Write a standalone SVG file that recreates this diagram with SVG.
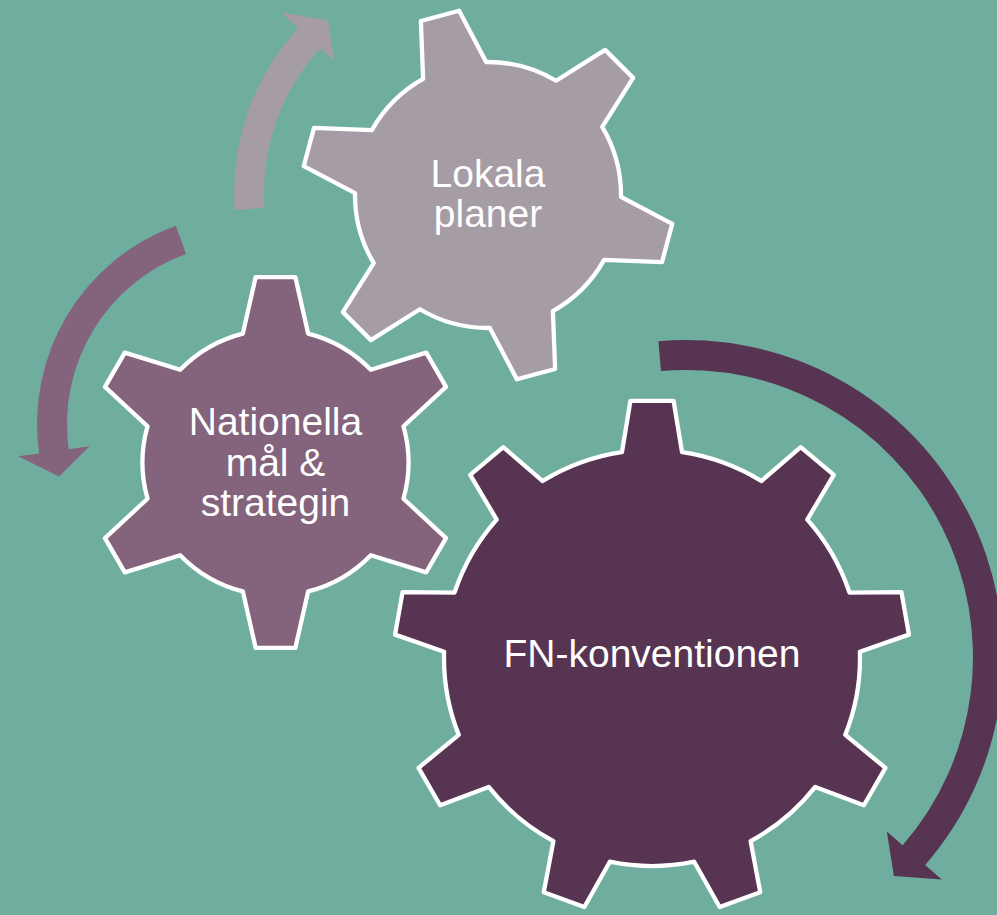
<svg xmlns="http://www.w3.org/2000/svg" width="997" height="915" viewBox="0 0 997 915">
<style>
.gear{stroke:#FFFFFF;stroke-width:4.3;stroke-linejoin:round}
.g1{fill:#573552}
.g2{fill:#84637C}
.g3{fill:#A69CA5}
.lbl{font-family:"Liberation Sans",Arial,sans-serif;font-size:39px;fill:#FFFFFF;text-anchor:middle}
</style>
<rect x="0" y="0" width="997" height="915" fill="#6FAD9F"/>
<g id="connectors">
<path id="arrow-lokala" class="g3" d="M234.6,210.0 A244,244 0 0 1 298.1,28.2 L281.2,12.6 L327.8,20.2 L334.2,61.3 L320.2,48.4 A214,214 0 0 0 264.5,207.9 Z"/>
<path id="arrow-nationella" class="g2" d="M175.8,225.7 A211,211 0 0 0 39.1,453.4 L18.3,456.3 L59.1,476.4 L89.6,446.3 L68.8,449.2 A181,181 0 0 1 186.1,253.9 Z"/>
<path id="arrow-fn" class="g1" d="M658.4,341.2 A317,317 0 0 1 925.2,865.0 L941.8,879.4 L893.9,876.1 L886.8,831.5 L902.6,845.3 A287,287 0 0 0 661.0,371.1 Z"/>
</g>
<g id="node-fn">
<path class="gear g1" d="M621.97,452.18 L630.41,400.91 L673.59,400.91 L682.03,452.18 A208,208 0 0 1 761.30,481.03 L800.72,447.18 L833.80,474.93 L807.30,519.63 A208,208 0 0 1 849.48,592.69 L901.44,592.09 L908.94,634.62 L859.91,651.83 A208,208 0 0 1 845.26,734.91 L885.45,767.85 L863.86,805.25 L815.24,786.92 A208,208 0 0 1 750.61,841.14 L760.22,892.21 L719.65,906.98 L694.18,861.68 A208,208 0 0 1 609.82,861.68 L584.35,906.98 L543.78,892.21 L553.39,841.14 A208,208 0 0 1 488.76,786.92 L440.14,805.25 L418.55,767.85 L458.74,734.91 A208,208 0 0 1 444.09,651.83 L395.06,634.62 L402.56,592.09 L454.52,592.69 A208,208 0 0 1 496.70,519.63 L470.20,474.93 L503.28,447.18 L542.70,481.03 A208,208 0 0 1 621.97,452.18 Z"/>
<text class="lbl" x="652" y="667">FN-konventionen</text>
</g>
<g id="node-nationella">
<path class="gear g2" d="M242.87,333.56 L255.68,277.06 L295.32,277.06 L308.13,333.56 A133,133 0 0 1 370.85,369.78 L426.19,352.61 L446.01,386.94 L403.48,426.29 A133,133 0 0 1 403.48,498.71 L446.01,538.06 L426.19,572.39 L370.85,555.22 A133,133 0 0 1 308.13,591.44 L295.32,647.94 L255.68,647.94 L242.87,591.44 A133,133 0 0 1 180.15,555.22 L124.81,572.39 L104.99,538.06 L147.52,498.71 A133,133 0 0 1 147.52,426.29 L104.99,386.94 L124.81,352.61 L180.15,369.78 A133,133 0 0 1 242.87,333.56 Z"/>
<text class="lbl" x="275.5" y="435">Nationella</text>
<text class="lbl" x="275.5" y="475.5">mål &amp;</text>
<text class="lbl" x="275.5" y="516">strategin</text>
</g>
<g id="node-lokala">
<path class="gear g3" d="M423.11,78.90 L420.86,21.00 L459.15,10.75 L486.14,62.01 A133,133 0 0 1 556.10,80.76 L605.11,49.86 L633.14,77.89 L602.24,126.90 A133,133 0 0 1 620.99,196.86 L672.25,223.85 L662.00,262.14 L604.10,259.89 A133,133 0 0 1 552.89,311.10 L555.14,369.00 L516.85,379.25 L489.86,327.99 A133,133 0 0 1 419.90,309.24 L370.89,340.14 L342.86,312.11 L373.76,263.10 A133,133 0 0 1 355.01,193.14 L303.75,166.15 L314.00,127.86 L371.90,130.11 A133,133 0 0 1 423.11,78.90 Z"/>
<text class="lbl" x="488" y="186.7">Lokala</text>
<text class="lbl" x="488" y="226.7">planer</text>
</g>
</svg>
